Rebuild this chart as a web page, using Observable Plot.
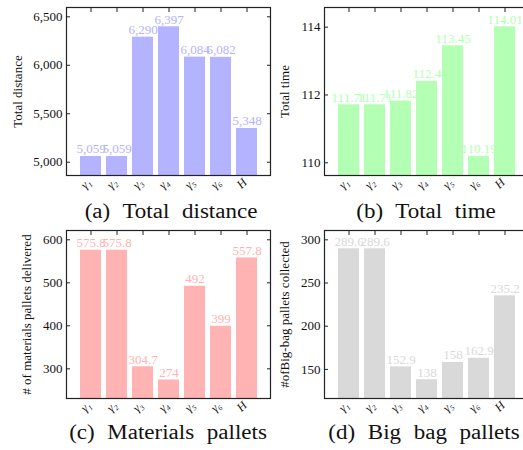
<!DOCTYPE html>
<html>
<head>
<meta charset="utf-8">
<script src="https://cdn.jsdelivr.net/npm/d3@7"></script>
<script src="https://cdn.jsdelivr.net/npm/@observablehq/plot@0.6"></script>
<style>
  html, body { margin: 0; padding: 0; background: white; }
  #root { position: relative; width: 523px; height: 450px; overflow: hidden; background: white; font-family: 'Liberation Serif', 'DejaVu Serif', serif; }
  .cap { position: absolute; font-size: 20px; word-spacing: 6px; white-space: nowrap; transform: translate(-50%, -50%) scaleX(1.15); color: #111; }
</style>
</head>
<body>
<div id="root"></div>
<script>
const categories = ["γ₁", "γ₂", "γ₃", "γ₄", "γ₅", "γ₆", "H"];
const totalDistance = [5059, 5059, 6290, 6397, 6084, 6082, 5348];
const totalTime = [111.71, 111.71, 111.82, 112.4, 113.45, 110.19, 114.01];
const materialsPallets = [575.8, 575.8, 304.7, 274, 492, 399, 557.8];
const bigBagPallets = [289.6, 289.6, 152.9, 138, 158, 162.9, 235.2];
const distanceTicks = [5000, 5500, 6000, 6500];
const timeTicks = [110, 112, 114];
const materialsTicks = [300, 400, 500, 600];
const bigBagTicks = [150, 200, 250, 300];
const captions = ["(a) Total distance", "(b) Total time", "(c) Materials pallets", "(d) Big bag pallets"];

const root = document.getElementById("root");
const comma = d3.format(",");
const plain = d => String(d);

function panel({values, domain, ticks, color, label, fmt, left, top, ml, labelOffset}) {
  const data = categories.map((c, i) => ({c, v: values[i]}));
  const svg = Plot.plot({
    width: ml + 204 + 8,
    height: 7 + 168 + 26,
    marginLeft: ml, marginRight: 8, marginTop: 7, marginBottom: 26,
    style: {fontFamily: "'Liberation Serif', 'DejaVu Serif', serif", fontSize: "13px", background: "transparent", overflow: "visible", maxWidth: "none", color: "#111"},
    x: {domain: categories, paddingInner: 0.2, paddingOuter: 0.475, axis: null},
    y: {domain, axis: null},
    marks: [
      Plot.barY(data, {x: "c", y: "v", fill: color, clip: true}),
      Plot.text(data, {x: "c", y: "v", text: d => fmt(d.v), fill: color, dy: -3, lineAnchor: "bottom", fontSize: 13}),
      Plot.axisY({anchor: "left", ticks, tickSize: -4, tickPadding: 8, tickFormat: fmt, label, labelAnchor: "center", labelOffset, labelArrow: "none", stroke: "#222"}),
      Plot.axisY({anchor: "right", ticks, tickSize: -4, tickFormat: () => "", label: null, stroke: "#222"}),
      Plot.axisX({anchor: "top", tickSize: -4, tickFormat: () => "", label: null, stroke: "#222"}),
      Plot.text(categories, {x: d => d, frameAnchor: "bottom", rotate: -45, textAnchor: "end", lineAnchor: "middle", dx: -2, dy: 5, fontSize: 12, fontStyle: "italic", fill: "#111"}),
      Plot.frame({stroke: "#222", strokeWidth: 1.2})
    ]
  });
  svg.style.position = "absolute";
  svg.style.left = left + "px";
  svg.style.top = top + "px";
  root.appendChild(svg);
}

panel({values: totalDistance, domain: [4863, 6596], ticks: distanceTicks, color: "#b3b3ff", label: "Total distance", fmt: comma, left: 0, top: 0, ml: 66, labelOffset: 54});
panel({values: totalTime, domain: [109.625, 114.58], ticks: timeTicks, color: "#b3ffb3", label: "Total time", fmt: plain, left: 262, top: 0, ml: 62, labelOffset: 45});
panel({values: materialsPallets, domain: [231, 621.6], ticks: materialsTicks, color: "#ffb3b3", label: "# of materials pallets delivered", fmt: plain, left: 0, top: 223, ml: 66, labelOffset: 45});
panel({values: bigBagPallets, domain: [116.3, 310.8], ticks: bigBagTicks, color: "#d9d9d9", label: "#ofBig-bag pallets collected", fmt: plain, left: 262, top: 223, ml: 62, labelOffset: 45});

const capPos = [[171, 211], [426, 211], [168, 432], [424, 432]];
captions.forEach((t, i) => {
  const d = document.createElement("div");
  d.className = "cap";
  d.textContent = t;
  d.style.left = capPos[i][0] + "px";
  d.style.top = capPos[i][1] + "px";
  root.appendChild(d);
});
</script>
</body>
</html>
